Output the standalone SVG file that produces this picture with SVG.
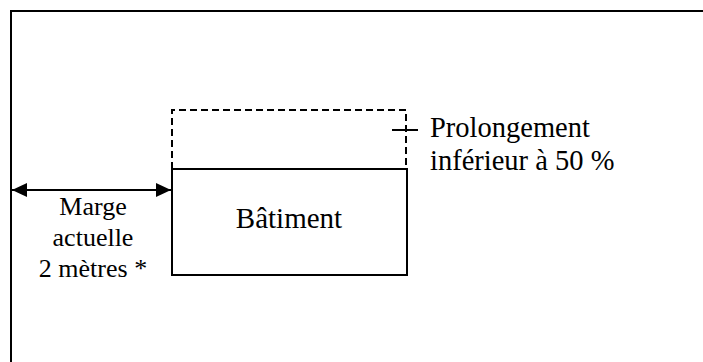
<svg xmlns="http://www.w3.org/2000/svg" width="703" height="362" viewBox="0 0 703 362">
<style>
.ln{stroke:#000;stroke-width:2;fill:none}
text{fill:#000}
</style>
<defs>
<marker id="ah" viewBox="0 0 15 14" refX="15" refY="7" markerWidth="15" markerHeight="14" markerUnits="userSpaceOnUse" orient="auto-start-reverse">
<path d="M0,0 L15,7 L0,14 Z" fill="#000"/>
</marker>
</defs>
<rect width="703" height="362" fill="#fff"/>
<g id="border">
<path class="ln" d="M11,370 V11 H710"/>
</g>
<g id="extension">
<path class="ln" d="M172,169 V110 H406 V169" stroke-dasharray="7 4"/>
</g>
<g id="batiment">
<rect class="ln" x="172" y="169" width="235" height="106"/>
<text font-family="Liberation Serif, serif" x="289" y="228" font-size="29" text-anchor="middle">Bâtiment</text>
</g>
<g id="connectors">
<line class="ln" x1="12" y1="190" x2="171" y2="190" marker-start="url(#ah)" marker-end="url(#ah)"/>
<line class="ln" x1="392" y1="130" x2="418" y2="130"/>
</g>
<g id="marge">
<text font-family="Liberation Serif, serif" font-size="26" text-anchor="middle"><tspan x="93" y="215">Marge</tspan><tspan x="93" y="246">actuelle</tspan><tspan x="93" y="277">2 mètres *</tspan></text>
</g>
<g id="prolongement">
<text font-family="Liberation Serif, serif" font-size="28.5"><tspan x="430" y="137">Prolongement</tspan><tspan x="430" y="170">inférieur à 50 %</tspan></text>
</g>
</svg>
